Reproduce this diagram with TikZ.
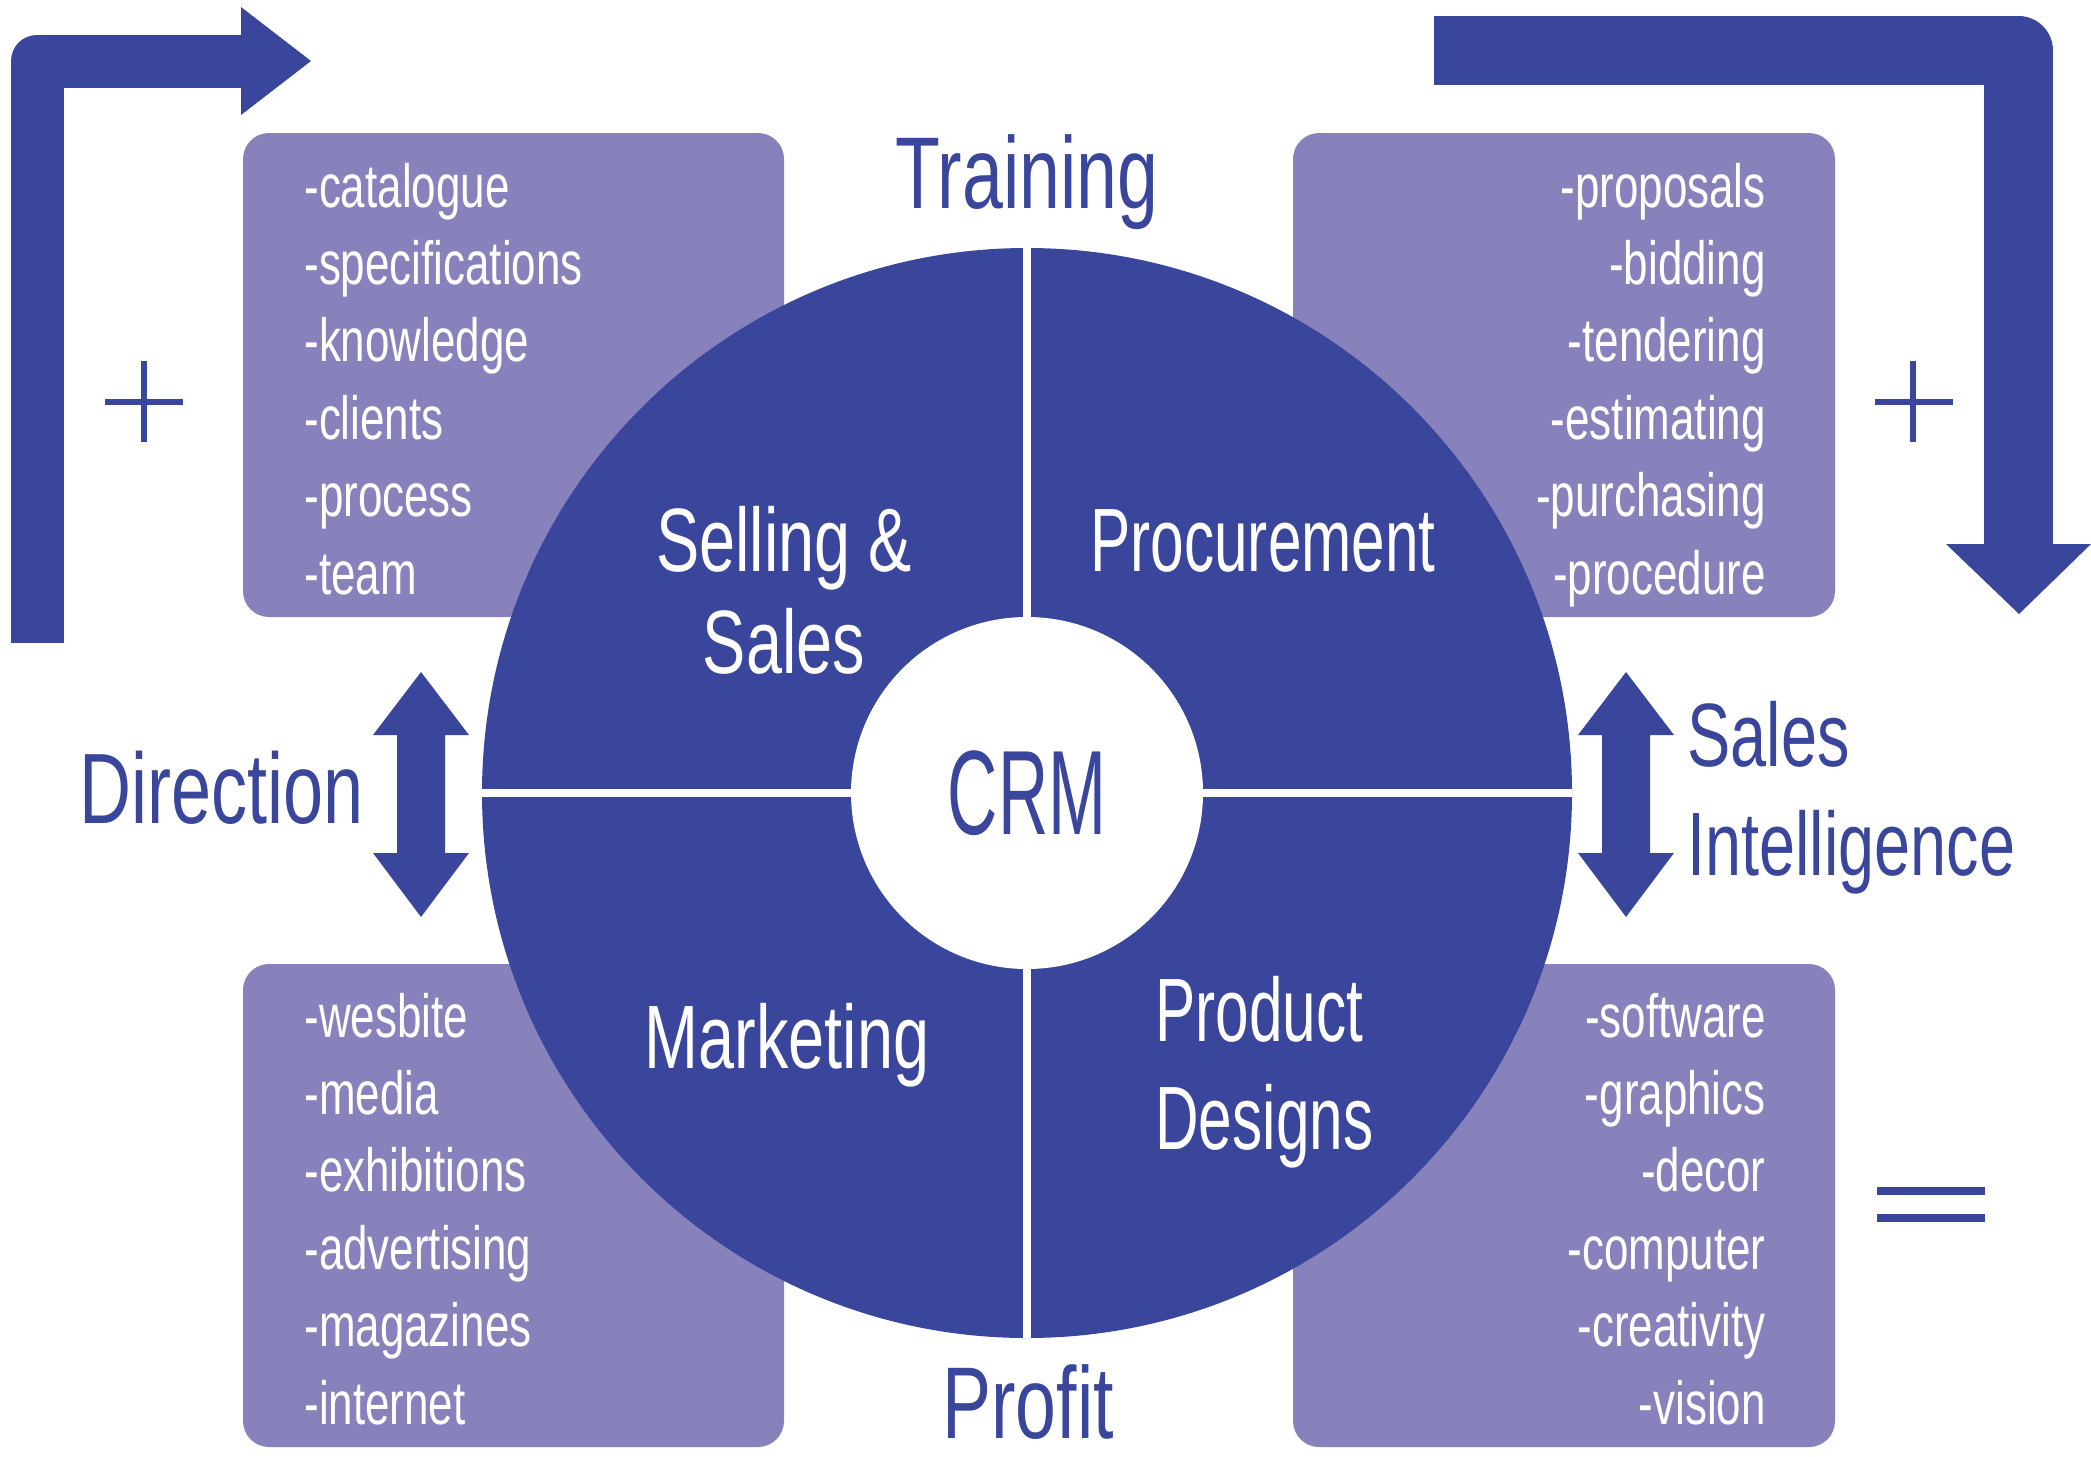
\documentclass[tikz,border=0pt]{standalone}
\usepackage{fontspec}
\setmainfont{Liberation Sans}[FakeStretch=0.72]
\newfontfamily\crmfont{Liberation Sans}[FakeStretch=0.58]
\newfontfamily\narrowfont{Liberation Sans}[FakeStretch=0.67]
\usetikzlibrary{calc}
\usetikzlibrary{positioning}
\definecolor{crmblue}{RGB}{58,69,156}
\definecolor{lilac}{RGB}{136,130,188}
\tikzset {
    listbox/.style = {fill=lilac, rounded corners=13pt},
    listtext/.style = {text=white, inner sep=0pt, font=\fontsize{30.5}{36}\selectfont},
    headtext/.style = {text=crmblue, inner sep=0pt, font=\fontsize{51}{60}\selectfont},
    sidetext/.style = {text=crmblue, inner sep=0pt, font=\fontsize{45}{54}\selectfont},
    segtext/.style = {text=white, inner sep=0pt, font=\fontsize{45}{54}\selectfont},
    narrowseg/.style = {segtext, font=\narrowfont\fontsize{45}{54}\selectfont},
    elbowbar/.style = {draw=crmblue, line join=round},
    signbar/.style = {draw=crmblue, line width=3pt},
    updown/.pic = {
        \fill[crmblue] (0,-122) -- (48,-59) -- (24,-59) -- (24,59) -- (48,59) -- (0,123)
            -- (-48,59) -- (-24,59) -- (-24,-59) -- (-48,-59) -- cycle;
    }
}

\begin{document}
\begin{tikzpicture}[x=0.5pt, y=-0.5pt]
    \useasboundingbox (0,0) rectangle (2091,1456);

    % the four lists behind the wheel
    \fill[listbox] (243,133) rectangle (784,617);
    \fill[listbox] (1293,133) rectangle (1835,617);
    \fill[listbox] (243,964) rectangle (784,1447);
    \fill[listbox] (1293,964) rectangle (1835,1447);

    % wheel
    \node[circle, fill=crmblue, minimum size=545pt, inner sep=0pt] (wheel) at (1027,793) {};
    \draw[white, line width=4pt] (wheel.north) -- (wheel.south);
    \draw[white, line width=4pt] (wheel.west) -- (wheel.east);
    \node[circle, fill=white, minimum size=176pt, inner sep=0pt, text=crmblue,
          font=\crmfont\fontsize{60}{70}\selectfont] (crm) at (wheel.center) {CRM};

    \node[segtext, anchor=base] (selling) at (784,571) {Selling \&};
    \node[segtext, anchor=base] (sales) at (784,673) {Sales};
    \node[narrowseg, anchor=base] (procure) at (1263,571) {Procurement};
    \node[segtext, anchor=base] (market) at (787,1068) {Marketing};
    \node[narrowseg, anchor=base west] (product) at (1155,1041) {Product};
    \node[narrowseg, anchor=base west] (designs) at (1155,1149) {Designs};

    % list entries
    \foreach \w [count=\i] in {catalogue,specifications,knowledge,clients,process,team}
        \node[listtext, anchor=base west] (sell\i) at (304,{207+77.4*(\i-1)}) {-\w};
    \foreach \w [count=\i] in {proposals,bidding,tendering,estimating,purchasing,procedure}
        \node[listtext, anchor=base east] (proc\i) at (1766,{207+77.4*(\i-1)}) {-\w};
    \foreach \w [count=\i] in {wesbite,media,exhibitions,advertising,magazines,internet}
        \node[listtext, anchor=base west] (mark\i) at (304,{1037+77.4*(\i-1)}) {-\w};
    \foreach \w [count=\i] in {software,graphics,decor,computer,creativity,vision}
        \node[listtext, anchor=base east] (prod\i) at (1766,{1037+77.4*(\i-1)}) {-\w};

    % outer labels
    \node[headtext, anchor=base] (training) at (1027,208) {Training};
    \node[headtext, anchor=base] (profit) at (1028,1438) {Profit};
    \node[headtext, anchor=base west, font=\fontsize{50}{60}\selectfont] (direction) at (79,823) {Direction};
    \node[sidetext, anchor=base west] (salesint) at (1687,766) {Sales};
    \node[sidetext, anchor=base west] (intel) at (1687,875) {Intelligence};

    % double arrows
    \pic at (421,794) {updown};
    \pic at (1626,794) {updown};

    % elbow arrows
    \coordinate (lfoot) at (37,643);
    \coordinate (rstart) at (1434,50.5);
    \draw[elbowbar, line width=26.5pt] (lfoot) -- (37,61) -- (241,61);
    \fill[crmblue] (241,7) -- (311,61) -- (241,115) -- cycle;
    \draw[elbowbar, line width=34.5pt] (rstart) -- (2018.5,50.5) -- (2018.5,544);
    \fill[crmblue] (1946,544) -- (2091,544) -- (2019,614) -- cycle;

    % signs
    \draw[signbar] (105,402) -- (183,402) (144,361) -- (144,442);
    \draw[signbar] (1875,402) -- (1953,402) (1913,361) -- (1913,442);
    \draw[crmblue, line width=4pt] (1877,1191) -- (1985,1191) (1877,1218) -- (1985,1218);
\end{tikzpicture}
\end{document}
